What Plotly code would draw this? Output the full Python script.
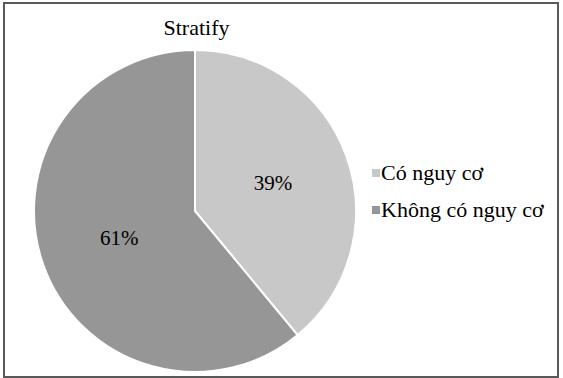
import plotly.graph_objects as go

labels = ["Có nguy cơ", "Không có nguy cơ"]
values = [39, 61]
colors = ["#c8c8c8", "#969696"]

W, H = 563, 378
FONT = "Liberation Serif"

fig = go.Figure(go.Pie(
    labels=labels, values=values, sort=False, direction="clockwise", rotation=0,
    marker=dict(colors=colors, line=dict(color="white", width=2)),
    textinfo="percent", textposition="inside",
    textfont=dict(family=FONT, size=21, color="black"),
    hoverinfo="skip", showlegend=False,
    domain=dict(x=[34 / W, 356 / W], y=[(H - 372) / H, (H - 50) / H]),
))

# legend keys: square markers on a pixel-scaled cartesian frame (frame also draws the border)
leg_x, leg_y0, leg_dy = 376, 173, 37
key_y = [H - (leg_y0 + i * leg_dy) for i in range(len(labels))]
fig.add_trace(go.Scatter(
    x=[leg_x] * len(labels), y=key_y, mode="markers",
    marker=dict(symbol="square", size=8, color=colors, line=dict(width=0)),
    hoverinfo="skip", showlegend=False, cliponaxis=False,
))
for i, lab in enumerate(labels):
    yc = leg_y0 + i * leg_dy
    fig.add_annotation(text=lab, xref="paper", yref="paper",
                       x=(leg_x + 3) / W, y=1 - (yc - 1) / H,
                       xanchor="left", yanchor="middle", showarrow=False,
                       font=dict(family=FONT, size=22, color="black"))

# transparent helper glyphs so the serif font families are resolved by the browser
for j, fam in enumerate(["DejaVu Serif", "serif", "Liberation Sans"]):
    fig.add_annotation(text=".", xref="paper", yref="paper", x=(520 + 8 * j) / W, y=20 / H,
                       showarrow=False, font=dict(family=fam, size=4, color="rgba(0,0,0,0)"))

axis_common = dict(showline=True, mirror=True, linecolor="#595959", linewidth=1.5,
                   ticks="", showticklabels=False, showgrid=False, zeroline=False,
                   fixedrange=True)
fig.update_layout(
    width=W, height=H, margin=dict(l=0, r=0, t=0, b=0),
    plot_bgcolor="rgba(0,0,0,0)",
    xaxis=dict(domain=[5 / W, 557 / W], range=[5, 557], **axis_common),
    yaxis=dict(domain=[2 / H, 374 / H], range=[2, 374], **axis_common),
    title=dict(text="Stratify", x=196.5 / W, xanchor="center", y=1 - 27 / H, yanchor="middle",
               font=dict(family=FONT, size=22, color="black")),
)

fig.write_html("out.html")
